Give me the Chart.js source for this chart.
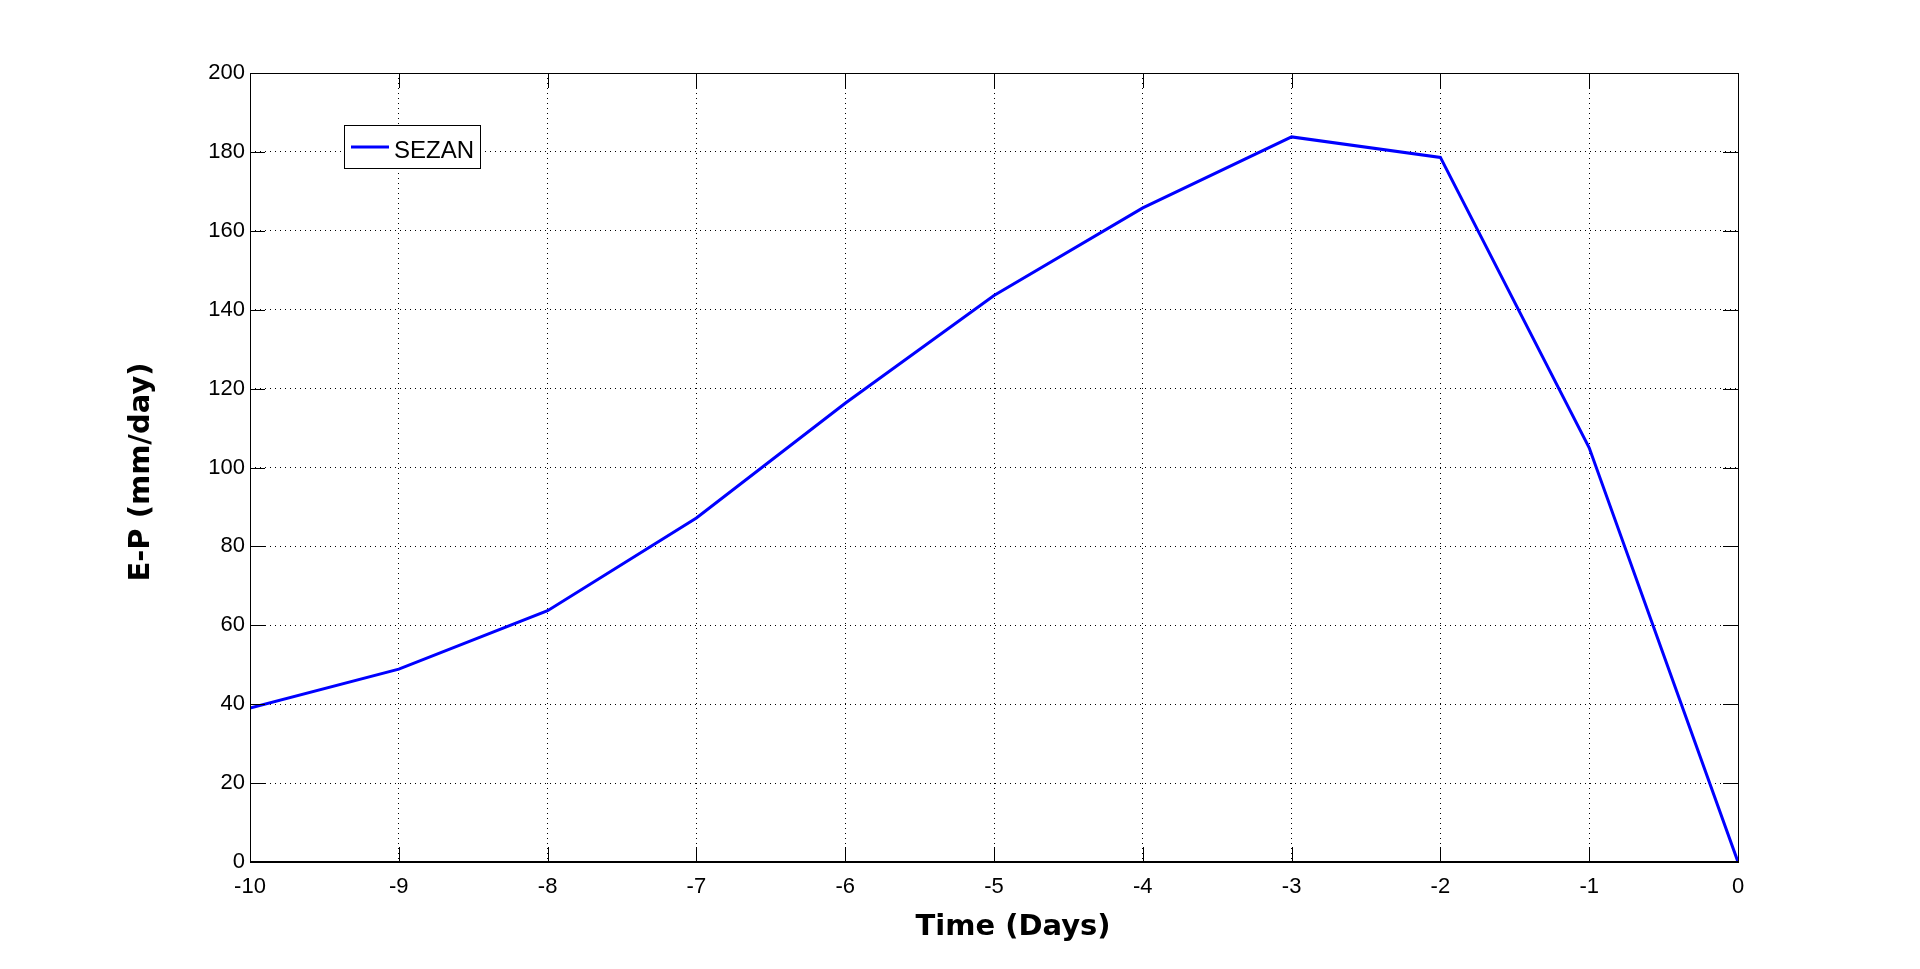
<!DOCTYPE html>
<html>
<head>
<meta charset="utf-8">
<script src="https://cdn.jsdelivr.net/npm/chart.js@4/dist/chart.umd.min.js"></script>
<style>
  html, body { margin: 0; padding: 0; background: #fff; }
  canvas { display: block; }
</style>
</head>
<body>
<canvas id="grafico" width="1920" height="969"></canvas>
<script>
// datos
const dias = [-10, -9, -8, -7, -6, -5, -4, -3, -2, -1, 0];
const epSezan = [39.0, 48.9, 63.7, 87.2, 116.3, 143.6, 165.8, 183.8, 178.6, 105.0, 0];
const ticksX = [-10, -9, -8, -7, -6, -5, -4, -3, -2, -1, 0];
const ticksY = [0, 20, 40, 60, 80, 100, 120, 140, 160, 180, 200];
const nombreSerie = 'SEZAN';
const tituloX = 'Time (Days)';
const tituloY = 'E-P (mm/day)';

const fuenteTicks = '22px "Liberation Sans", Arial, sans-serif';
const largoTick = 15;

// caja, marcas interiores, leyenda y titulos al estilo matlab
const marcoMatlab = {
    id: 'marcoMatlab',
    afterDatasetsDraw(chart) {
        const { ctx, chartArea: a, scales } = chart;
        ctx.save();
        ctx.strokeStyle = '#000';
        ctx.lineWidth = 1;
        ctx.setLineDash([]);
        ctx.beginPath();
        ticksX.forEach(v => {
            const x = Math.round(scales.x.getPixelForValue(v)) + 0.5;
            ctx.moveTo(x, a.bottom); ctx.lineTo(x, a.bottom - largoTick);
            ctx.moveTo(x, a.top); ctx.lineTo(x, a.top + largoTick);
        });
        ticksY.forEach(v => {
            const y = Math.round(scales.y.getPixelForValue(v)) + 0.5;
            ctx.moveTo(a.left, y); ctx.lineTo(a.left + largoTick, y);
            ctx.moveTo(a.right, y); ctx.lineTo(a.right - largoTick, y);
        });
        ctx.stroke();
        ctx.strokeRect(Math.round(a.left) + 0.5, Math.round(a.top) + 0.5,
            Math.round(a.right - a.left), Math.round(a.bottom - a.top));
        ctx.lineWidth = 2;
        ctx.beginPath();
        ctx.moveTo(a.left, Math.round(a.bottom));
        ctx.lineTo(a.right + 0.5, Math.round(a.bottom));
        ctx.stroke();

        // leyenda
        const ds = chart.data.datasets[0];
        ctx.fillStyle = '#fff';
        ctx.fillRect(344.5, 125.5, 136, 43);
        ctx.lineWidth = 1;
        ctx.strokeStyle = '#000';
        ctx.strokeRect(344.5, 125.5, 136, 43);
        ctx.strokeStyle = ds.borderColor;
        ctx.lineWidth = 3;
        ctx.beginPath();
        ctx.moveTo(351, 147);
        ctx.lineTo(389, 147);
        ctx.stroke();
        ctx.fillStyle = '#000';
        ctx.font = '24px "Liberation Sans", Arial, sans-serif';
        ctx.textAlign = 'left';
        ctx.textBaseline = 'alphabetic';
        ctx.fillText(ds.label, 394, 158);

        // titulos de ejes
        ctx.font = 'bold 29px "DejaVu Sans", sans-serif';
        ctx.textAlign = 'center';
        ctx.fillText(tituloX, 1013, 935);
        ctx.translate(141, 472);
        ctx.rotate(-Math.PI / 2);
        ctx.textBaseline = 'middle';
        ctx.fillText(tituloY, 0, 0);
        ctx.restore();
    }
};

const lienzo = document.getElementById('grafico').getContext('2d');

new Chart(lienzo, {
    type: 'line',
    data: {
        datasets: [{
            label: nombreSerie,
            data: dias.map((d, i) => ({ x: d, y: epSezan[i] })),
            borderColor: '#0000ff',
            borderWidth: 3,
            pointRadius: 0,
            tension: 0,
            fill: false
        }]
    },
    options: {
        responsive: false,
        animation: false,
        devicePixelRatio: 1,
        layout: { padding: { top: 73, right: 182, left: 0, bottom: 0 } },
        plugins: {
            legend: { display: false },
            tooltip: { enabled: false }
        },
        scales: {
            x: {
                type: 'linear',
                min: -10,
                max: 0,
                afterBuildTicks: s => { s.ticks = ticksX.map(v => ({ value: v })); },
                afterFit: s => { s.height = 107; },
                grid: { color: '#000', lineWidth: 1, drawTicks: false },
                border: { display: false, dash: [1, 4] },
                ticks: {
                    color: '#000',
                    font: { family: '"Liberation Sans", Arial, sans-serif', size: 22 },
                    padding: 12,
                    maxRotation: 0,
                    callback: v => String(v)
                }
            },
            y: {
                type: 'linear',
                min: 0,
                max: 200,
                afterBuildTicks: s => { s.ticks = ticksY.map(v => ({ value: v })); },
                afterFit: s => { s.width = 250; },
                grid: { color: '#000', lineWidth: 1, drawTicks: false },
                border: { display: false, dash: [1, 4] },
                ticks: {
                    color: '#000',
                    font: { family: '"Liberation Sans", Arial, sans-serif', size: 22 },
                    padding: 5,
                    callback: v => String(v)
                }
            }
        }
    },
    plugins: [marcoMatlab]
});
</script>
</body>
</html>
